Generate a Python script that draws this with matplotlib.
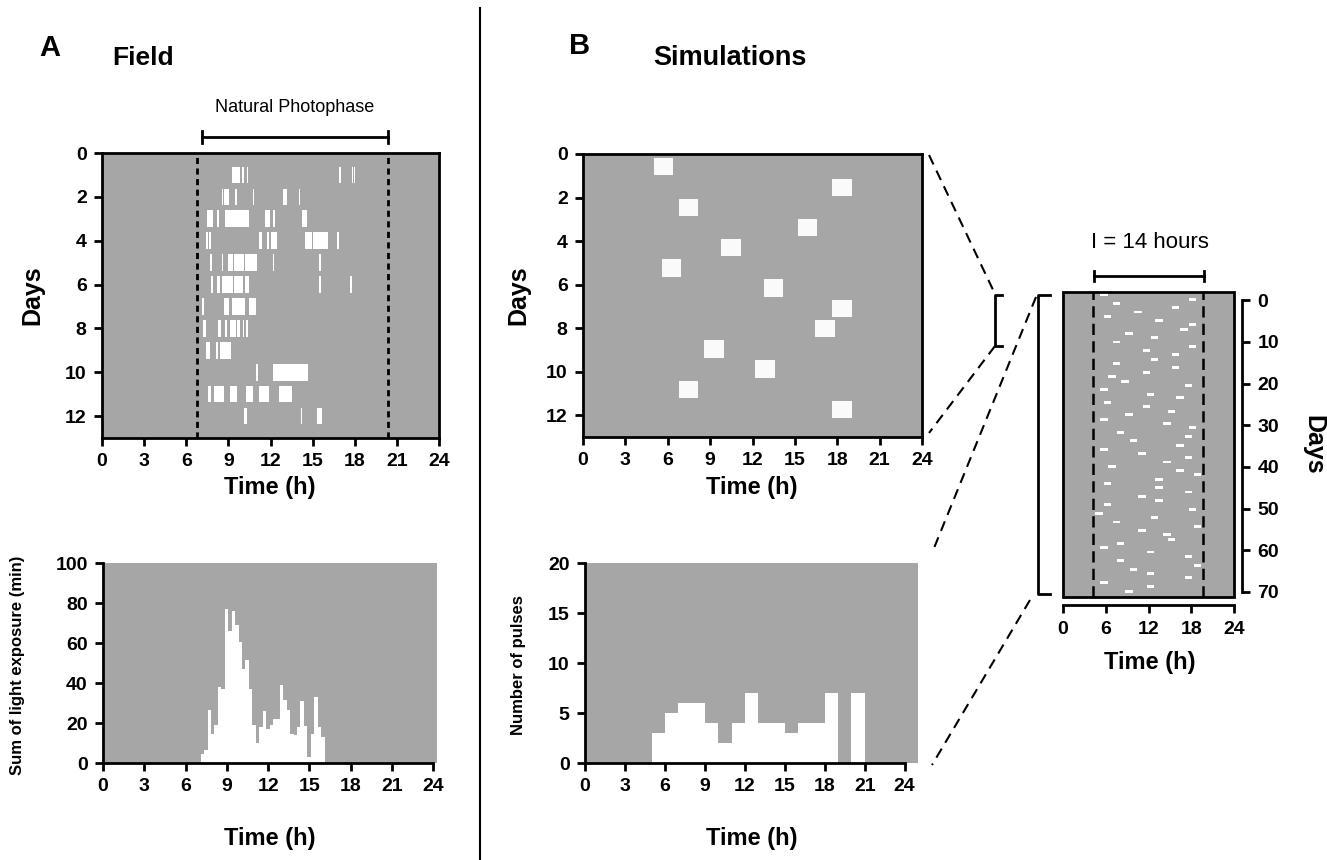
import matplotlib
matplotlib.use('Agg')
import matplotlib.pyplot as plt
from matplotlib.lines import Line2D
from matplotlib.patches import Rectangle

plt.rcParams['font.family'] = ['Liberation Sans', 'DejaVu Sans']
plt.rcParams['font.weight'] = 'bold'

GRAY = '#a6a6a6'
W, H = 1327, 860

# ---- A: field actogram, light bouts per day (start/end hour) ----
field_day = [1, 1, 1, 1, 1, 1,
             2, 2, 2, 2, 2, 2, 2,
             3, 3, 3, 3, 3, 3,
             4, 4, 4, 4, 4, 4, 4, 4,
             5, 5, 5, 5, 5, 5, 5,
             6, 6, 6, 6, 6, 6, 6,
             7, 7, 7, 7,
             8, 8, 8, 8, 8, 8, 8,
             9, 9, 9, 9,
             10, 10,
             11, 11, 11, 11, 11, 11,
             12, 12, 12]
field_t0 = [9.24, 9.98, 10.30, 16.90, 17.80, 17.97,
            8.55, 8.69, 8.86, 9.48, 10.74, 12.87, 14.01,
            7.46, 8.22, 8.77, 11.60, 12.20, 14.23,
            7.39, 7.60, 11.19, 11.73, 12.02, 14.47, 15.00, 16.72,
            7.70, 8.53, 9.00, 9.38, 10.15, 12.16, 15.46,
            7.74, 8.17, 8.58, 9.38, 10.19, 15.46, 17.67,
            7.13, 8.69, 9.26, 10.47,
            7.17, 8.29, 8.76, 9.12, 9.60, 10.02, 10.26,
            7.39, 7.58, 8.15, 8.41,
            10.97, 12.21,
            7.58, 8.00, 9.12, 10.26, 11.21, 12.64,
            10.14, 14.16, 15.34]
field_t1 = [9.83, 10.10, 10.43, 17.00, 17.88, 18.05,
            8.65, 8.81, 9.03, 9.60, 10.83, 13.16, 14.13,
            7.89, 8.36, 10.50, 11.97, 12.30, 14.58,
            7.53, 7.74, 11.38, 11.92, 12.45, 14.94, 16.10, 16.86,
            7.86, 8.65, 9.33, 10.10, 11.02, 12.28, 15.58,
            7.93, 8.41, 9.33, 10.07, 10.45, 15.58, 17.79,
            7.24, 9.07, 10.19, 10.95,
            7.41, 8.48, 8.93, 9.55, 9.83, 10.14, 10.43,
            7.53, 7.72, 8.29, 9.17,
            11.14, 14.70,
            7.74, 8.69, 9.64, 10.78, 11.92, 13.56,
            10.31, 14.25, 15.68]
photophase = [6.8, 20.4]

# ---- A: summed light exposure, 15-min bins ----
field_bin_start = 7.1
field_bin_width = 0.25
field_sum = [4.7, 6.7, 26.7, 14.7, 18.8, 37.8, 37.0, 77.0, 66.0, 75.8,
             68.8, 60.5, 47.0, 51.7, 37.0, 18.8, 9.8, 17.8, 25.8, 17.0,
             18.8, 22.0, 22.0, 39.0, 31.7, 26.7, 14.7, 14.0, 18.0, 30.8,
             18.7, 3.0, 14.7, 32.8, 17.8, 12.8]

# ---- B: simulated pulses (12 days) ----
sim_day = [0.58, 1.53, 2.44, 3.38, 4.30, 5.24, 6.16, 7.10, 8.02, 8.96, 9.88, 10.82, 11.74]
sim_start = [5.00, 17.64, 6.79, 15.20, 9.79, 5.59, 12.80, 17.64, 16.44, 8.58, 12.20, 6.79, 17.64]
sim_len = 1.37

# ---- B: number of pulses per hour ----
pulse_hour = list(range(5, 21))
pulse_count = [3, 5, 6, 6, 4, 2, 4, 7, 4, 4, 3, 4, 4, 7, 0, 7]

# ---- B: 70-day simulation, pulse centres ----
long_hour = [5.74, 18.2, 7.53, 15.8, 10.5, 6.26, 13.5, 18.2, 17.0, 9.27,
             12.85, 7.53, 18.2, 11.7, 15.8, 12.85, 7.53, 15.8, 11.7, 6.87,
             8.7, 17.6, 5.74, 12.3, 16.4, 6.26, 11.7, 15.25, 9.27, 5.74,
             14.6, 18.2, 8.1, 17.6, 9.9, 16.4, 5.74, 11.1, 17.6, 14.6,
             6.87, 16.4, 18.9, 13.5, 6.26, 13.5, 17.6, 11.1, 13.5, 6.26,
             18.2, 5.08, 12.85, 7.53, 18.9, 11.1, 14.6, 15.25, 8.1, 5.74,
             12.3, 17.6, 8.1, 18.9, 9.9, 12.3, 17.6, 5.74, 12.3, 9.27]
long_day = [-1.3, -0.3, 0.8, 1.8, 2.8, 3.8, 4.9, 5.9, 7.0, 8.0,
            9.0, 10.0, 11.0, 12.1, 13.1, 14.2, 15.2, 16.2, 17.3, 18.3,
            19.4, 20.4, 21.4, 22.5, 23.4, 24.5, 25.5, 26.6, 27.5, 28.6,
            29.6, 30.6, 31.7, 32.6, 33.7, 34.8, 35.8, 36.8, 37.8, 38.8,
            39.8, 40.9, 41.8, 42.96, 43.9, 44.96, 46.0, 47.0, 48.1, 49.1,
            50.2, 51.1, 52.2, 53.2, 54.2, 55.2, 56.3, 57.3, 58.4, 59.4,
            60.4, 61.4, 62.5, 63.6, 64.6, 65.6, 66.6, 67.7, 68.7, 69.8]
long_len = 1.04
window = [4.15, 19.65]


def box(l, t, r, b):
    return [l / W, 1 - b / H, (r - l) / W, (b - t) / H]


def fline(xs, ys, **kw):
    kw.setdefault('color', 'black')
    fig.add_artist(Line2D([x / W for x in xs], [1 - y / H for y in ys], **kw))


def ftext(x, y, s, **kw):
    fig.text(x / W, 1 - y / H, s, **kw)


def style(ax, size=14):
    for s in ax.spines.values():
        s.set_linewidth(2)
    ax.tick_params(direction='out', length=6, width=2, labelsize=size, pad=5)


fig = plt.figure(figsize=(W / 100, H / 100), dpi=100)

# A - actogram
ax1 = fig.add_axes(box(102, 153, 439, 438), facecolor=GRAY)
for d, a, b in zip(field_day, field_t0, field_t1):
    ax1.broken_barh([(a, b - a)], (d - 0.38, 0.76), facecolor='white', lw=0)
for p in photophase:
    ax1.axvline(p, color='black', lw=2, ls=(0, (2.2, 1.6)))
ax1.set_xlim(0, 24)
ax1.set_ylim(13, 0)
ax1.set_xticks(range(0, 25, 3))
ax1.set_yticks(range(0, 13, 2))
style(ax1)

# A - histogram
ax2 = fig.add_axes(box(103, 563, 437, 763), facecolor=GRAY)
ax2.bar([field_bin_start + i * field_bin_width for i in range(len(field_sum))],
        field_sum, width=field_bin_width, align='edge', color='white', lw=0)
ax2.set_xlim(0, 24.27)
ax2.set_ylim(0, 100)
ax2.set_xticks(range(0, 25, 3))
ax2.set_yticks(range(0, 101, 20))
style(ax2)
ax2.spines['top'].set_visible(False)
ax2.spines['right'].set_visible(False)
ax2.spines['bottom'].set_bounds(0, 24)

# B - actogram
ax3 = fig.add_axes(box(583, 154, 922, 437), facecolor=GRAY)
for d, s in zip(sim_day, sim_start):
    ax3.add_patch(Rectangle((s, d - 0.395), sim_len, 0.79, facecolor='#fafafa', lw=0))
ax3.set_xlim(0, 24)
ax3.set_ylim(13, 0)
ax3.set_xticks(range(0, 25, 3))
ax3.set_yticks(range(0, 13, 2))
style(ax3)

# B - histogram
ax4 = fig.add_axes(box(585, 563, 918, 763), facecolor=GRAY)
ax4.bar(pulse_hour, pulse_count, width=1, align='edge', color='white', lw=0)
ax4.set_xlim(0, 25)
ax4.set_ylim(0, 20)
ax4.set_xticks(range(0, 25, 3))
ax4.set_yticks(range(0, 21, 5))
style(ax4)
ax4.spines['top'].set_visible(False)
ax4.spines['right'].set_visible(False)
ax4.spines['bottom'].set_bounds(0, 24)

# B - 70 day panel
ax5 = fig.add_axes(box(1063, 292, 1234, 597), facecolor=GRAY)
for d, h in zip(long_day, long_hour):
    ax5.add_patch(Rectangle((h - long_len / 2, d - 0.35), long_len, 0.7,
                            facecolor='white', lw=0))
for p in window:
    ax5.axvline(p, color='black', lw=1.8, ls=(0, (4.5, 2.5)))
ax5.set_xlim(0, 24)
ax5.set_ylim(71.2, -2)
ax5.set_xticks(range(0, 25, 6))
ax5.set_yticks(range(0, 71, 10))
ax5.yaxis.tick_right()
style(ax5, size=14)
ax5.spines['top'].set_visible(False)
ax5.spines['left'].set_visible(False)
ax5.spines['right'].set_position(('outward', 6))
ax5.spines['right'].set_bounds(0, 70)
ax5.spines['bottom'].set_position(('outward', 6))
ax5.spines['bottom'].set_bounds(0, 24)
ax5.add_patch(Rectangle((0, 0), 1, 1, transform=ax5.transAxes, fill=False,
                        lw=2, edgecolor='black', clip_on=False))

# labels
ftext(32, 295, 'Days', rotation=90, ha='center', va='center', fontsize=18)
ftext(270, 487, 'Time (h)', ha='center', va='center', fontsize=17)
ftext(18, 665, 'Sum of light exposure (min)', rotation=90, ha='center', va='center', fontsize=12)
ftext(270, 838, 'Time (h)', ha='center', va='center', fontsize=17)
ftext(518, 295, 'Days', rotation=90, ha='center', va='center', fontsize=18)
ftext(752, 487, 'Time (h)', ha='center', va='center', fontsize=17)
ftext(518, 665, 'Number of pulses', rotation=90, ha='center', va='center', fontsize=12)
ftext(752, 838, 'Time (h)', ha='center', va='center', fontsize=17)
ftext(1150, 663, 'Time (h)', ha='center', va='center', fontsize=17)
ftext(1313, 445, 'Days', rotation=-90, ha='center', va='center', fontsize=18)

ftext(50, 48, 'A', ha='center', va='center', fontsize=21)
ftext(112, 58, 'Field', ha='left', va='center', fontsize=19)
ftext(580, 46, 'B', ha='center', va='center', fontsize=21)
ftext(653, 58, 'Simulations', ha='left', va='center', fontsize=19.5)
ftext(295, 107, 'Natural Photophase', ha='center', va='center', fontsize=13, weight='normal')
ftext(1150, 243, 'I = 14 hours', ha='center', va='center', fontsize=16, weight='normal')

# brackets
fline([202, 388], [137, 137], lw=2)
fline([202, 202], [131, 143], lw=2)
fline([388, 388], [131, 143], lw=2)
fline([1094, 1204], [276, 276], lw=2)
fline([1094, 1094], [271, 281], lw=2)
fline([1204, 1204], [271, 281], lw=2)
fline([1002, 995, 995, 1002], [295, 295, 346, 346], lw=2)
fline([1050, 1038, 1038, 1050], [295, 295, 594, 594], lw=2)

# divider and zoom connectors
fline([480, 480], [8, 860], lw=1.5)
dash = dict(lw=1.5, ls=(0, (5, 3.3)))
fline([929, 995], [155, 294], **dash)
fline([995, 929], [346, 433], **dash)
fline([1036, 932], [297, 553], **dash)
fline([1030, 932], [600, 765], **dash)

fig.savefig('out.png', dpi=100)
